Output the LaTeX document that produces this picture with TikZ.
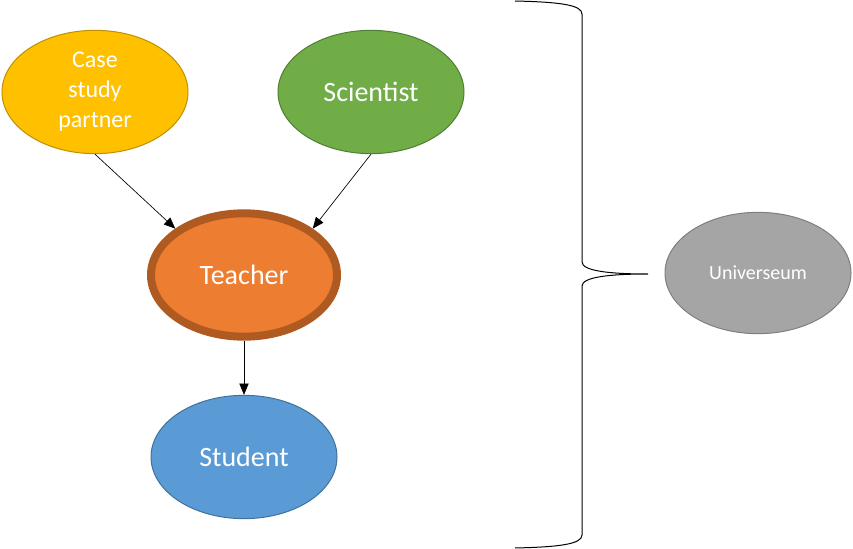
\documentclass[tikz,border=0pt]{standalone}
\usepackage{fontspec}
\setmainfont{Carlito}
\usepackage{tikz}
\usetikzlibrary{shapes.geometric,arrows.meta,positioning}
\definecolor{partnerfill}{HTML}{FFC000}
\definecolor{partnerline}{HTML}{BF9000}
\definecolor{scientistfill}{HTML}{70AD47}
\definecolor{scientistline}{HTML}{507E32}
\definecolor{teacherfill}{HTML}{ED7D31}
\definecolor{teacherline}{HTML}{AE5A21}
\definecolor{studentfill}{HTML}{5B9BD5}
\definecolor{studentline}{HTML}{41719C}
\definecolor{museumfill}{HTML}{A5A5A5}
\definecolor{museumline}{HTML}{7F7F7F}

\begin{document}
\begin{tikzpicture}[x=0.75pt,y=-0.75pt,
    actor/.style={ellipse, draw, line width=0.75pt, text=white, inner sep=0pt, minimum width=139.5pt, minimum height=92.5pt, align=center, font=\fontsize{21}{25}\selectfont},
    link/.style={-{Triangle[length=8.5pt,width=7pt]}, line width=0.5pt}]
    \useasboundingbox (0,0) rectangle (853,549);
    \node[actor, fill=partnerfill, draw=partnerline, font=\fontsize{18}{22.5}\selectfont] (partner) at (95,92) {Case\\study\\partner};
    \node[actor, fill=scientistfill, draw=scientistline] (scientist) at (371,92) {Scientist};
    \node[actor, fill=teacherfill, draw=teacherline, line width=6pt] (teacher) at (244,275) {Teacher};
    \node[actor, fill=studentfill, draw=studentline] (student) at (244,457) {Student};
    \node[actor, fill=museumfill, draw=museumline, minimum height=91pt, font=\fontsize{15}{18}\selectfont] (museum) at (758,273) {Universeum};
    \draw[link] (partner.south) -- (teacher.146);
    \draw[link] (scientist.south) -- (teacher.34);
    \draw[link] (teacher.south) -- (student.north);
    \draw[line width=0.75pt] (515,1) .. controls (560,2) and (582,5) .. (582,14) -- (582,262)
        .. controls (582,271) and (610,274) .. (648,274)
        .. controls (610,274) and (582,277) .. (582,286) -- (582,535)
        .. controls (582,544) and (560,547) .. (515,548);
\end{tikzpicture}
\end{document}
